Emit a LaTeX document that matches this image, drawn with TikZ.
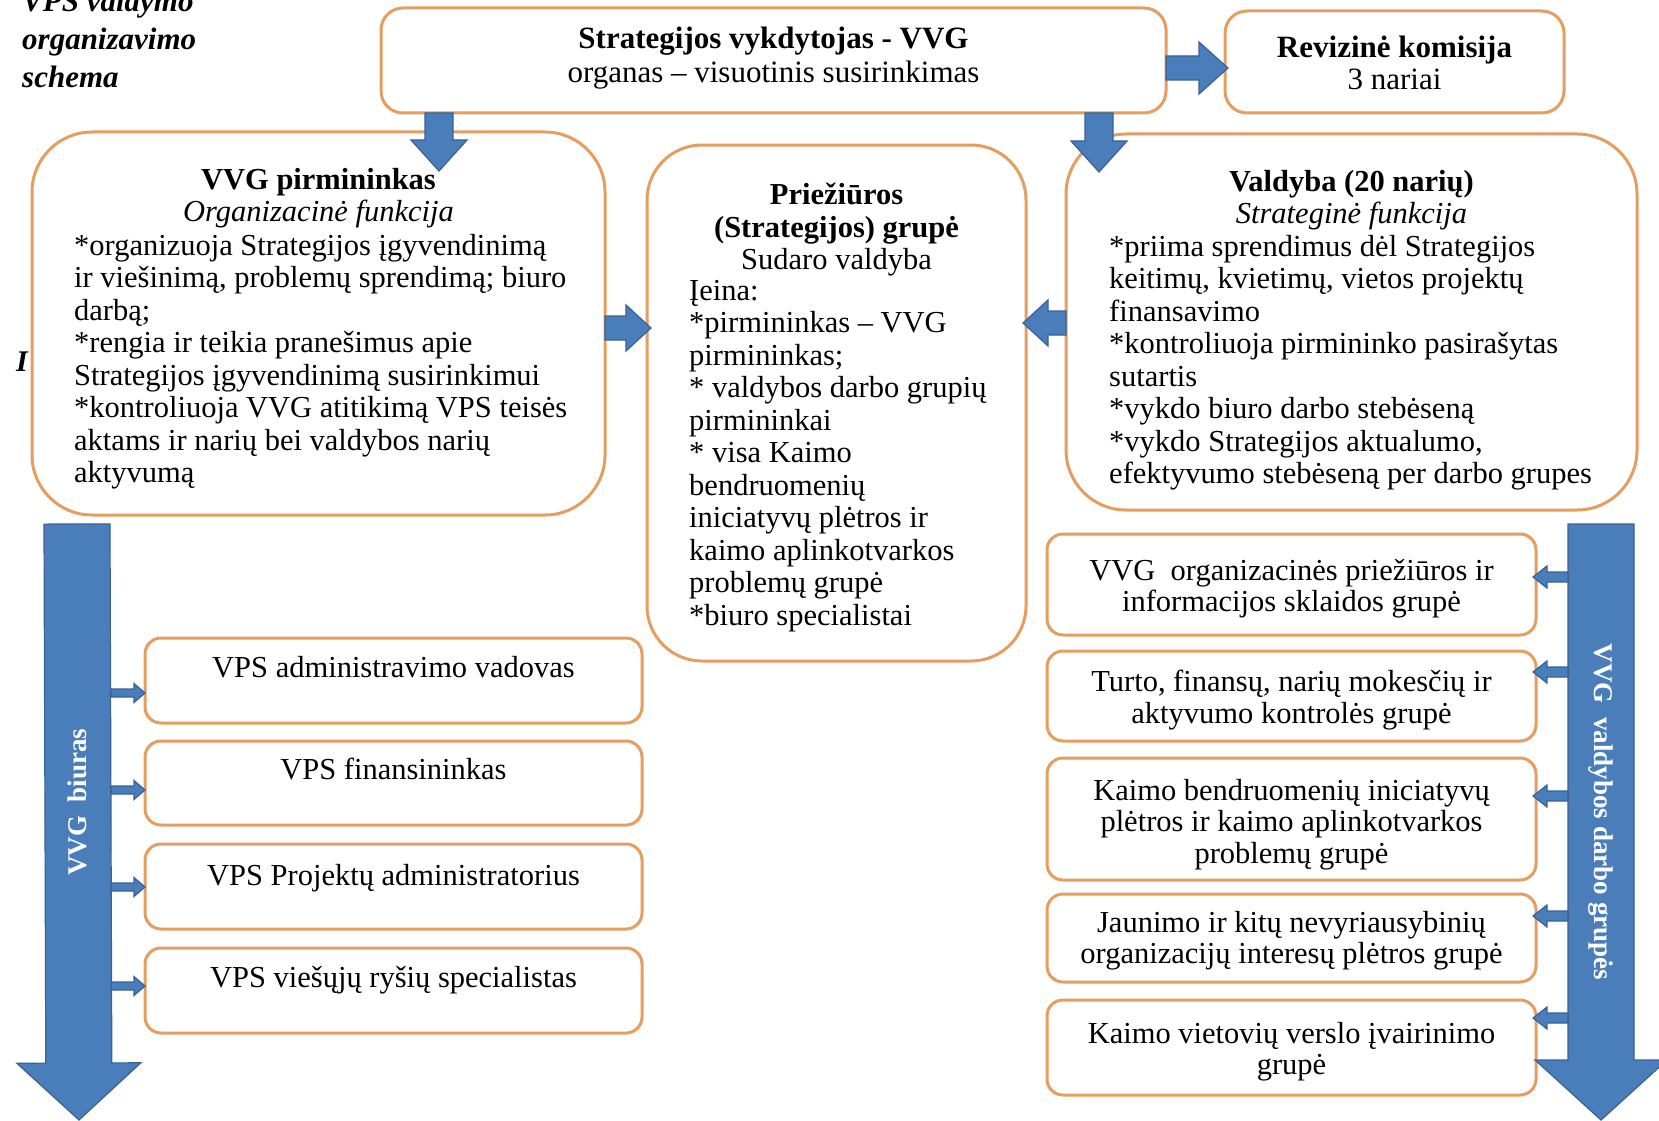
\documentclass[tikz,border=0pt]{standalone}
\usepackage{fontspec}
\setmainfont{Liberation Serif}
\usetikzlibrary{calc}
\definecolor{boxline}{RGB}{230,158,96}
\definecolor{arrfill}{RGB}{74,126,187}
\definecolor{arrline}{RGB}{56,98,150}
\tikzset{
  rbox/.style={draw=boxline, line width=3pt, fill=white, rounded corners=#1, inner sep=0pt, outer sep=0pt},
  txt/.style={font=\fontsize{30.5}{32.5}\selectfont, inner sep=0pt, text=black},
  blk/.style={fill=arrfill, draw=arrline, line width=1.2pt, line join=miter},
}
% block arrow: start, tip, half shaft, half head, head length
\newcommand\blkarrow[5]{%
  \coordinate (blkB) at ($(#2)!#5!(#1)$);
  \path[blk] ($(#1)!#3!90:(#2)$) -- ($(blkB)!#3!90:(#2)$) -- ($(blkB)!#4!90:(#2)$) -- (#2)
     -- ($(blkB)!#4!-90:(#2)$) -- ($(blkB)!#3!-90:(#2)$) -- ($(#1)!#3!-90:(#2)$) -- cycle;}
\begin{document}
\begin{tikzpicture}[x=1pt,y=-1pt]
\useasboundingbox (0,0) rectangle (1659,1121);
\fill[white] (0,0) rectangle (1659,1121);

% boxes
\node[rbox=22pt, minimum width=785pt, minimum height=105pt] (top) at (773.5,60.5) {};
\node[rbox=22pt, minimum width=339pt, minimum height=102pt] (rev) at (1394.5,62) {};
\node[rbox=60pt, minimum width=573pt, minimum height=383pt] (left) at (318.5,323.5) {};
\node[rbox=55pt, minimum width=379pt, minimum height=516pt] (mid) at (836.5,403) {};
\node[rbox=60pt, minimum width=571pt, minimum height=376pt] (right) at (1351.5,322) {};

\node[rbox=16pt, minimum width=497pt, minimum height=85pt] (lb1) at (393.5,680.5) {};
\node[rbox=16pt, minimum width=497pt, minimum height=84pt] (lb2) at (393.5,783) {};
\node[rbox=16pt, minimum width=497pt, minimum height=85pt] (lb3) at (393.5,886.5) {};
\node[rbox=16pt, minimum width=497pt, minimum height=85pt] (lb4) at (393.5,990.5) {};

\node[rbox=16pt, minimum width=489pt, minimum height=101pt] (rb1) at (1291.5,584.5) {};
\node[rbox=16pt, minimum width=489pt, minimum height=90pt] (rb2) at (1291.5,696) {};
\node[rbox=16pt, minimum width=489pt, minimum height=122pt] (rb3) at (1291.5,819) {};
\node[rbox=16pt, minimum width=489pt, minimum height=88pt] (rb4) at (1291.5,938) {};
\node[rbox=16pt, minimum width=489pt, minimum height=95pt] (rb5) at (1291.5,1047.5) {};

% arrow coordinates
\coordinate (a1s) at (top.south -| 439,0);
\coordinate (a1t) at (439,171);
\coordinate (a2s) at (top.south -| 1099,0);
\coordinate (a2t) at (1099,172);
\coordinate (a3s) at (top.east |- 0,68);
\coordinate (a3t) at (1228,68);
\coordinate (a4s) at (left.east |- 0,328);
\coordinate (a4t) at (651,328);
\coordinate (a5s) at (right.west |- 0,323);
\coordinate (a5t) at (1023,323);
\coordinate (biurasTop) at (77,524);
\coordinate (biurasTip) at (79,1120);
\coordinate (grupTop) at (1601,524);
\coordinate (grupTip) at (1601,1120);

\blkarrow{a1s}{a1t}{14pt}{28pt}{31pt}
\blkarrow{a2s}{a2t}{14pt}{28pt}{31pt}
\blkarrow{a3s}{a3t}{12pt}{26pt}{29pt}
\blkarrow{a4s}{a4t}{12pt}{23pt}{25pt}
\blkarrow{a5s}{a5t}{12pt}{23pt}{25pt}
\blkarrow{biurasTop}{biurasTip}{33pt}{62pt}{57pt}
\blkarrow{grupTop}{grupTip}{33pt}{66pt}{60pt}

% small arrows left
\foreach \i/\yy in {1/693,2/790,3/887,4/986}{
  \coordinate (ls\i) at (111,\yy);
  \coordinate (lt\i) at (lb\i.west |- 0,\yy);
  \blkarrow{ls\i}{lt\i}{4pt}{9.5pt}{11pt}
}
% small arrows right
\foreach \i/\yy in {1/577,2/672,3/796,4/916,5/1018}{
  \coordinate (rs\i) at (1568,\yy);
  \coordinate (rt\i) at (1533,\yy);
  \blkarrow{rs\i}{rt\i}{5pt}{11pt}{14pt}
}

% texts
\node[txt, font=\fontsize{31}{38}\selectfont\bfseries\itshape, anchor=north west, align=left] (title) at (22,-10) {VPS valdymo\\organizavimo\\schema};
\node[txt, font=\fontsize{30}{30}\selectfont\bfseries\itshape] (mark) at (22,362) {I};

\node[txt, font=\fontsize{31}{34}\selectfont, anchor=north, align=center] (toptxt) at (773.5,27) {\textbf{Strategijos vykdytojas  - VVG}\\organas – visuotinis susirinkimas};
\node[txt, font=\fontsize{31}{32}\selectfont, anchor=north, align=center] (revtxt) at (1394.5,36) {\textbf{Revizinė komisija}\\3 nariai};

\node[txt, anchor=north, align=center] (lefthead) at (318.5,168) {\textbf{VVG pirmininkas}\\\textit{Organizacinė funkcija}};
\node[txt, anchor=north west, align=left] (leftbody) at (74,234) {*organizuoja Strategijos įgyvendinimą\\ir viešinimą, problemų sprendimą; biuro\\darbą;\\*rengia ir teikia pranešimus apie\\Strategijos įgyvendinimą susirinkimui\\*kontroliuoja VVG atitikimą VPS teisės\\aktams ir narių bei valdybos narių\\aktyvumą};

\node[txt, anchor=north, align=center] (midhead) at (836.5,183) {\textbf{Priežiūros}\\\textbf{(Strategijos) grupė}\\Sudaro valdyba};
\node[txt, anchor=north west, align=left] (midbody) at (689,280) {Įeina:\\*pirmininkas – VVG\\pirmininkas;\\* valdybos darbo grupių\\pirmininkai\\* visa Kaimo\\bendruomenių\\iniciatyvų plėtros ir\\kaimo aplinkotvarkos\\problemų grupė\\*biuro specialistai};

\node[txt, anchor=north, align=center] (righthead) at (1351.5,170) {\textbf{Valdyba (20 narių)}\\\textit{Strateginė funkcija}};
\node[txt, anchor=north west, align=left] (rightbody) at (1109,235) {*priima sprendimus dėl Strategijos\\keitimų, kvietimų, vietos projektų\\finansavimo\\*kontroliuoja pirmininko pasirašytas\\sutartis\\*vykdo biuro darbo stebėseną\\*vykdo Strategijos aktualumo,\\efektyvumo stebėseną per darbo grupes};

\node[txt, anchor=north] (lb1t) at (393.5,656) {VPS administravimo vadovas};
\node[txt, anchor=north] (lb2t) at (393.5,758) {VPS finansininkas};
\node[txt, anchor=north] (lb3t) at (393.5,864) {VPS Projektų administratorius};
\node[txt, anchor=north] (lb4t) at (393.5,966) {VPS viešųjų ryšių specialistas};

\node[txt, font=\fontsize{30.5}{31.5}\selectfont, anchor=north, align=center] (rb1t) at (1291.5,559) {VVG\ \ organizacinės priežiūros ir\\informacijos sklaidos grupė};
\node[txt, font=\fontsize{30.5}{31.5}\selectfont, anchor=north, align=center] (rb2t) at (1291.5,670) {Turto, finansų, narių mokesčių ir\\aktyvumo kontrolės grupė};
\node[txt, font=\fontsize{30.5}{31.5}\selectfont, anchor=north, align=center] (rb3t) at (1291.5,779) {Kaimo bendruomenių iniciatyvų\\plėtros ir kaimo aplinkotvarkos\\problemų grupė};
\node[txt, font=\fontsize{30.5}{31.5}\selectfont, anchor=north, align=center] (rb4t) at (1291.5,911) {Jaunimo ir kitų nevyriausybinių\\organizacijų interesų plėtros grupė};
\node[txt, font=\fontsize{30.5}{31.5}\selectfont, anchor=north, align=center] (rb5t) at (1291.5,1022) {Kaimo vietovių verslo įvairinimo\\grupė};

\node[txt, font=\fontsize{27}{27}\selectfont\bfseries, text=white, rotate=90] (biurastxt) at (77,802) {VVG\ \ biuras};
\node[txt, font=\fontsize{27}{27}\selectfont\bfseries, text=white, rotate=-90] (gruptxt) at (1601,812) {VVG\ \ valdybos darbo grupės};
\end{tikzpicture}
\end{document}
